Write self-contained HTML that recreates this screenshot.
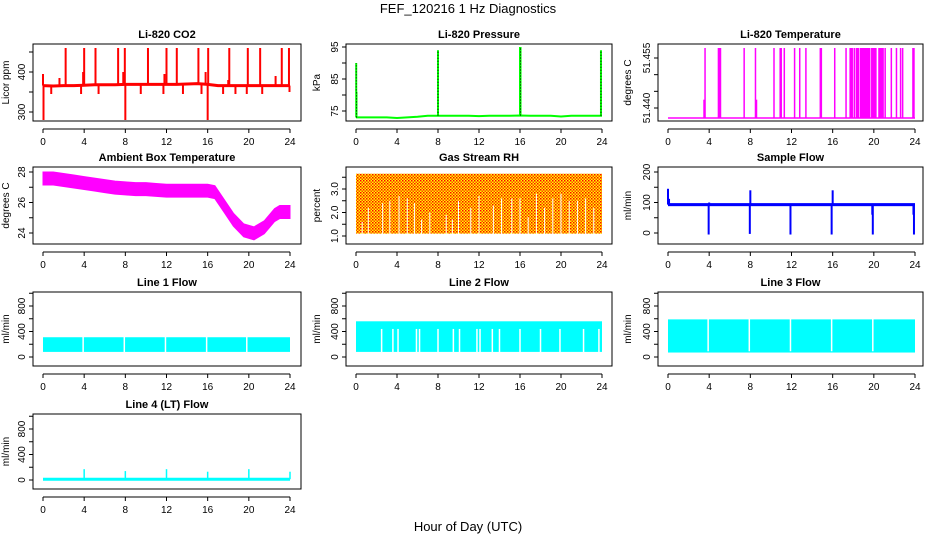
<!DOCTYPE html>
<html><head><meta charset="utf-8"><style>
html,body{margin:0;padding:0;background:#fff;width:936px;height:540px;overflow:hidden}
svg{display:block;font-family:"Liberation Sans",Arial,sans-serif}
</style></head><body>
<svg id="chart" width="936" height="540" viewBox="0 0 936 540">
<text x="468" y="13" text-anchor="middle" font-size="13">FEF_120216  1 Hz Diagnostics</text>
<text x="468" y="531" text-anchor="middle" font-size="13">Hour of Day (UTC)</text>
</svg>
<script>
const hourTicks=[0,4,8,12,16,20,24];
// CO2
const co2Base=[366,365,366,366,367,368,368,368,369,369,369,369,369,369,370,371,369,366,366,366,366,366,366,366,366];
const co2SpikeT=[0.0,0.05,1.6,2.2,3.9,4.0,5.1,7.3,7.8,8.0,7.95,10.2,11.8,12.0,13.0,15.1,15.8,16.0,16.05,18.0,18.1,19.9,21.1,22.6,23.2,23.9,0.8,3.7,5.4,9.5,11.7,13.6,15.4,17.5,18.7,19.8,21.3,23.95];
const co2SpikeV=[395,280,385,460,400,460,460,460,400,280,460,460,395,460,460,460,400,280,460,380,460,460,460,390,460,460,345,345,345,345,345,345,345,345,345,345,345,350];
// Pressure
const presBase=[73.0,73.0,73.0,73.0,72.8,73.0,73.2,73.5,73.5,73.5,73.5,73.5,73.4,73.5,73.5,73.5,73.6,73.5,73.5,73.5,73.3,73.5,73.5,73.5,73.5];
const presSpikeT=[0.02,0.05,8.0,16.0,16.05,23.9];
const presSpikeV=[90,81,94,95,95,94];
// Li-820 temperature
const tempBase=51.437;
const tempSpikeT=[3.5,3.6,4.9,5.0,5.1,7.4,8.5,8.6,10.3,10.9,11.0,11.3,12.3,12.8,13.4,14.8,14.9,16.2,17.3,17.7,17.8,17.9,18.1,18.3,18.4,18.5,18.7,18.8,18.9,19.0,19.1,19.2,19.3,19.4,19.5,19.6,19.8,19.9,20.0,20.1,20.2,20.5,20.6,20.7,20.8,20.9,21.1,21.7,22.2,22.6,22.8,23.8,23.9];
const tempSpikeV=[51.4425,51.458,51.458,51.458,51.458,51.458,51.458,51.4425,51.458,51.458,51.458,51.458,51.458,51.458,51.458,51.458,51.458,51.458,51.458,51.458,51.458,51.458,51.458,51.458,51.458,51.458,51.458,51.458,51.458,51.458,51.458,51.458,51.458,51.458,51.458,51.458,51.458,51.458,51.458,51.458,51.458,51.458,51.458,51.458,51.458,51.458,51.458,51.458,51.458,51.458,51.458,51.458,51.458];
// Ambient box temperature (hourly centre)
const ambT=[0,1,2,3,4,5,6,7,8,9,10,11,12,13,14,15,16,16.7,17.5,18.5,19.5,20.5,21.5,22.5,23,24];
const ambV=[27.6,27.6,27.5,27.4,27.3,27.2,27.1,27.0,26.95,26.9,26.9,26.85,26.8,26.8,26.8,26.8,26.8,26.7,25.9,24.9,24.2,24.0,24.4,25.2,25.4,25.4];
// Gas stream RH
const rhTop=3.65, rhBottom=1.1;
const rhGapT=[0.6,1.2,2.6,3.3,4.2,5.0,5.7,6.4,7.2,8.8,9.4,10.0,11.2,12.0,13.4,14.2,15.2,16.0,16.8,17.6,18.4,19.2,20.0,20.8,21.6,22.4,23.2];
const rhGapV=[1.6,2.2,2.4,2.5,2.7,2.6,2.4,1.7,2.0,1.9,1.7,2.5,2.2,2.7,2.3,2.6,2.6,2.6,1.8,2.8,2.2,2.6,2.8,2.5,2.5,2.6,2.2];
// Sample flow
const sfLo=88, sfHi=98;
const sfSpikeT=[0.0,0.1,3.95,4.0,7.95,8.0,11.9,15.9,16.0,19.85,19.9,23.85,23.9];
const sfSpikeV=[145,112,-5,100,-3,140,-5,-5,140,60,-5,60,-5];
// Flow lines 1-4
const l1Lo=80, l1Hi=310, l1GapT=[3.9,7.9,11.9,15.9,19.8];
const l2Lo=80, l2Hi=560, l2GapT=[2.5,3.6,4.1,5.9,6.2,8.0,9.5,10.1,11.8,12.1,13.3,14.0,16.0,18.0,19.9,22.2,23.7];
const l3Lo=70, l3Hi=590, l3GapT=[3.9,7.9,11.9,15.9,19.9];
const l4Base=12, l4SpikeT=[4.0,8.0,12.0,16.0,20.0,24.0], l4SpikeV=[170,140,170,130,170,130];

const svg=document.getElementById('chart');
const NS='http://www.w3.org/2000/svg';
function mk(tag,attrs,name,parent){
  const el=document.createElementNS(NS,tag);
  for(const k in attrs) el.setAttribute(k,attrs[k]);
  
  
  (parent||svg).appendChild(el);
  return el;
}
const cols=[{l:33,r:301,x0:43,x24:290,lab:20,tit:9},{l:346,r:612,x0:356,x24:602,lab:332,tit:320},{l:658,r:923,x0:668,x24:915,lab:644,tit:631}];
const rows=[{t:44,b:121},{t:167,b:244},{t:292,b:366},{t:414,b:489}];
function panel(c,r,title,ylab,v1,o1,v2,o2,ticks,labels,slug){
  const C=cols[c],R=rows[r];
  const g=mk('g',{},slug+'-panel');
  const X=t=>C.x0+(C.x24-C.x0)*t/24;
  const Y=v=>R.t+o1+(o2-o1)*(v-v1)/(v2-v1);
  const clip=mk('clipPath',{id:'clip-'+slug},slug+'-clip',g);
  mk('rect',{x:C.l,y:R.t,width:C.r-C.l,height:R.b-R.t},slug+'-clip-rect',clip);
  const data=mk('g',{'clip-path':'url(#clip-'+slug+')'},slug+'-series',g);
  mk('rect',{x:C.l,y:R.t,width:C.r-C.l,height:R.b-R.t,fill:'none',stroke:'#000','stroke-width':1},slug+'-plot-box',g);
  mk('text',{x:(C.l+C.r)/2,y:R.t-6,'text-anchor':'middle','font-size':11,'font-weight':'bold'},slug+'-title',g).textContent=title;
  const ya=mk('text',{x:C.tit,y:(R.t+R.b)/2,'text-anchor':'middle','font-size':10,transform:'rotate(-90 '+C.tit+' '+(R.t+R.b)/2+')'},slug+'-y-axis-title',g);
  ya.textContent=ylab;
  const ay=R.b+8;
  mk('line',{x1:X(0),x2:X(24),y1:ay,y2:ay,stroke:'#000'},slug+'-x-axis-line',g);
  hourTicks.forEach(h=>{
    mk('line',{x1:X(h),x2:X(h),y1:ay,y2:ay+4,stroke:'#000'},slug+'-x-tick',g);
    mk('text',{x:X(h),y:ay+16,'text-anchor':'middle','font-size':10},slug+'-x-tick-label',g).textContent=h;
  });
  ticks.forEach((v,i)=>{
    const y=Y(v);
    mk('line',{x1:C.l-4,x2:C.l,y1:y,y2:y,stroke:'#000'},slug+'-y-tick',g);
    if(labels[i]!==''){
      const lx=C.l-8;
      mk('text',{x:lx,y:y,'text-anchor':'middle','font-size':10,transform:'rotate(-90 '+lx+' '+y+')'},slug+'-y-tick-label',g).textContent=labels[i];
    }
  });
  return {X,Y,g:data};
}
function vline(p,t,a,b,col,w,name){return mk('line',{x1:p.X(t),x2:p.X(t),y1:p.Y(a),y2:p.Y(b),stroke:col,'stroke-width':w},name,p.g);}
function bandRect(p,lo,hi,fill,name){return mk('rect',{x:p.X(0),y:p.Y(hi),width:p.X(24)-p.X(0),height:p.Y(lo)-p.Y(hi),fill:fill},name,p.g);}

const defs=mk('defs',{},'pattern-defs');
const pat=mk('pattern',{id:'rhpat',width:3,height:3,patternUnits:'userSpaceOnUse'},'rh-dot-pattern',defs);
mk('rect',{x:0,y:0,width:3,height:3,fill:'#ffff00'},'rh-pattern-bg',pat);
mk('rect',{x:0,y:0,width:1.5,height:1.5,fill:'#ff0000'},'rh-pattern-dot',pat);
mk('rect',{x:1.5,y:1.5,width:1.5,height:1.5,fill:'#ff4000'},'rh-pattern-dot2',pat);

let p=panel(0,0,'Li-820 CO2','Licor ppm',400,28,300,68,[300,350,400,450],['300','','400',''],'co2');
mk('polyline',{points:co2Base.map((v,i)=>p.X(i)+','+p.Y(v)).join(' '),fill:'none',stroke:'#ff0000','stroke-width':3},'co2-baseline',p.g);
co2SpikeT.forEach((t,i)=>{const b=co2Base[Math.min(24,Math.round(t))];vline(p,t,b,co2SpikeV[i],'#ff0000',2,'co2-spike');});

p=panel(1,0,'Li-820 Pressure','kPa',95,3,75,67,[75,80,85,90,95],['75','','85','','95'],'pressure');
mk('polyline',{points:presBase.map((v,i)=>p.X(i)+','+p.Y(v)).join(' '),fill:'none',stroke:'#00ff00','stroke-width':2},'pressure-line',p.g);
presSpikeT.forEach((t,i)=>{const b=presBase[Math.min(24,Math.round(t))];vline(p,t,b,presSpikeV[i],'#00ff00',2,'pressure-spike');
  mk('line',{x1:p.X(t),x2:p.X(t),y1:p.Y(b),y2:p.Y(presSpikeV[i]),stroke:'#000','stroke-width':1,'stroke-dasharray':'1 2'},'pressure-spike-points',p.g);});

p=panel(2,0,'Li-820 Temperature','degrees C',51.455,14,51.440,64,[51.440,51.445,51.450,51.455],['51.440','','','51.455'],'licor-temp');
mk('line',{x1:p.X(0),x2:p.X(24),y1:p.Y(tempBase),y2:p.Y(tempBase),stroke:'#ff00ff','stroke-width':1.5},'licor-temp-baseline',p.g);
tempSpikeT.forEach((t,i)=>vline(p,t,tempBase,tempSpikeV[i],'#ff00ff',1.5,'licor-temp-spike'));

p=panel(0,1,'Ambient Box Temperature','degrees C',28,5,24,66,[24,25,26,27,28],['24','','26','','28'],'ambient-temp');
{const up=ambT.map((t,i)=>p.X(t)+','+p.Y(ambV[i]+0.4)),dn=ambT.map((t,i)=>p.X(t)+','+p.Y(ambV[i]-0.45)).reverse();
 mk('polygon',{points:up.concat(dn).join(' '),fill:'#ff00ff',stroke:'#ff00ff','stroke-width':1},'ambient-temp-band',p.g);}

p=panel(1,1,'Gas Stream RH','percent',3.0,22,1.0,69,[1.0,1.5,2.0,2.5,3.0,3.5],['1.0','','2.0','','3.0',''],'rh');
bandRect(p,rhBottom,rhTop,'url(#rhpat)','rh-band');
rhGapT.forEach((t,i)=>vline(p,t,rhBottom-0.05,rhGapV[i],'#ffffff',1,'rh-gap'));

p=panel(2,1,'Sample Flow','ml/min',0,66,200,5,[0,50,100,150,200],['0','','100','','200'],'sample-flow');
bandRect(p,sfLo,sfHi,'#0000ff','sample-flow-band');
sfSpikeT.forEach((t,i)=>vline(p,t,93,sfSpikeV[i],'#0000ff',2,'sample-flow-spike'));

const flowTicks=[0,200,400,600,800,1000],flowLabels=['0','','400','','800',''];
p=panel(0,2,'Line 1 Flow','ml/min',0,65,800,14,flowTicks,flowLabels,'line1-flow');
bandRect(p,l1Lo,l1Hi,'#00ffff','line1-flow-band');
l1GapT.forEach(t=>vline(p,t,l1Lo-20,l1Hi+20,'#ffffff',1.5,'line1-flow-gap'));
p=panel(1,2,'Line 2 Flow','ml/min',0,65,800,14,flowTicks,flowLabels,'line2-flow');
bandRect(p,l2Lo,l2Hi,'#00ffff','line2-flow-band');
l2GapT.forEach(t=>vline(p,t,l2Lo-20,440,'#ffffff',1.5,'line2-flow-gap'));
p=panel(2,2,'Line 3 Flow','ml/min',0,65,800,14,flowTicks,flowLabels,'line3-flow');
bandRect(p,l3Lo,l3Hi,'#00ffff','line3-flow-band');
l3GapT.forEach(t=>vline(p,t,l3Lo+20,l3Hi+20,'#ffffff',1.5,'line3-flow-gap'));
p=panel(0,3,'Line 4 (LT) Flow','ml/min',0,66,800,15,flowTicks,flowLabels,'line4-flow');
mk('line',{x1:p.X(0),x2:p.X(24),y1:p.Y(l4Base),y2:p.Y(l4Base),stroke:'#00ffff','stroke-width':3},'line4-flow-baseline',p.g);
l4SpikeT.forEach((t,i)=>vline(p,t,l4Base,l4SpikeV[i],'#00ffff',1.5,'line4-flow-spike'));
</script>
</body></html>
